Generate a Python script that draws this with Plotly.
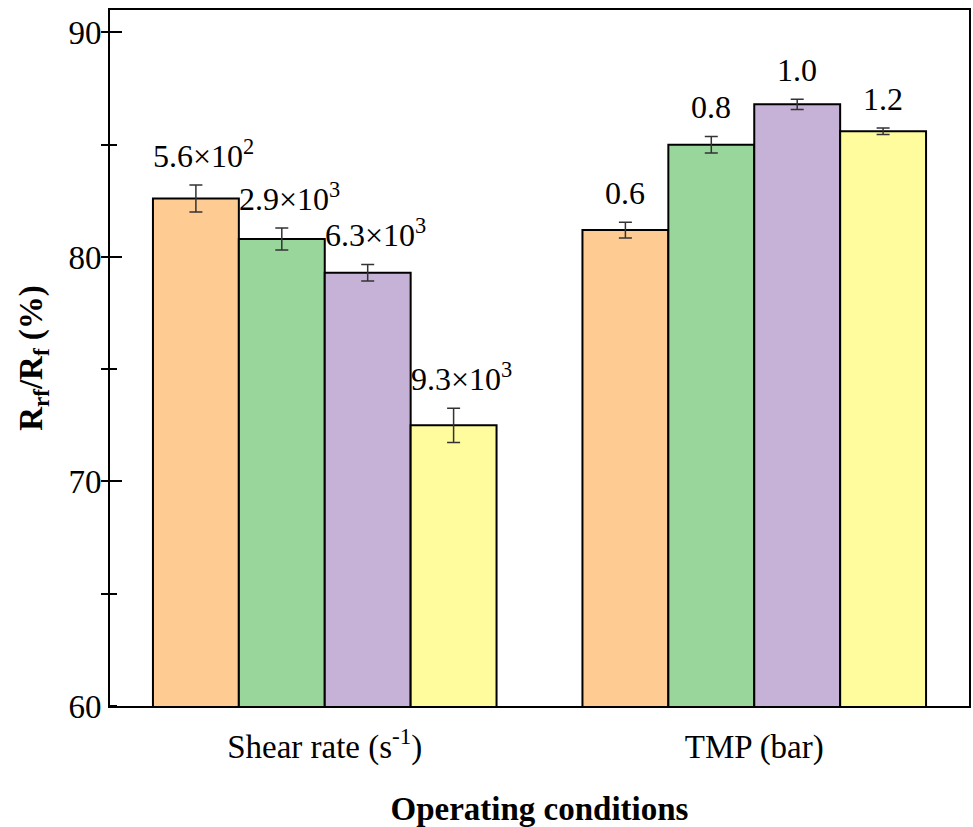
import plotly.graph_objects as go

# ---- data ----
categories = ["Shear rate (s<sup>-1</sup>)", "TMP (bar)"]
series_names = ["Level 1", "Level 2", "Level 3", "Level 4"]
values = [
    [82.6, 81.2],   # level 1
    [80.8, 85.0],   # level 2
    [79.3, 86.8],   # level 3
    [72.5, 85.6],   # level 4
]
errors = [
    [0.60, 0.35],
    [0.49, 0.37],
    [0.37, 0.23],
    [0.76, 0.14],
]
bar_labels = [
    ["5.6×10<sup>2</sup>", "0.6"],
    ["2.9×10<sup>3</sup>", "0.8"],
    ["6.3×10<sup>3</sup>", "1.0"],
    ["9.3×10<sup>3</sup>", "1.2"],
]
y_ticks = [60, 70, 80, 90]

colors = ["#FECB92", "#98D69C", "#C5B2D6", "#FEFC9C"]
FONT = "Liberation Serif, Times New Roman, serif"
bar_w = 0.2
n = len(series_names)
y_range = [60, 91]

fig = go.Figure()
annotations = []
for i in range(n):
    xs = [g + (i - (n - 1) / 2) * bar_w for g in range(len(categories))]
    fig.add_trace(go.Bar(
        x=xs, y=values[i], width=bar_w, name=series_names[i],
        marker=dict(color=colors[i], line=dict(color="black", width=2)),
        error_y=dict(type="data", array=errors[i], visible=True,
                     color="#333333", thickness=1.5, width=6.5),
        showlegend=False,
    ))
    for g in range(len(categories)):
        lbl = bar_labels[i][g]
        annotations.append(dict(
            x=xs[g], y=values[i][g] + errors[i][g], xref="x", yref="y",
            text=lbl, showarrow=False, yanchor="bottom",
            yshift=9, xshift=8 if "<sup>" in lbl else 0,
            font=dict(family=FONT, size=32, color="black"),
        ))

# helper trace so the overlaid axis (inner half of minor ticks) is drawn
fig.add_trace(go.Scatter(x=[None], y=[None], yaxis="y2", mode="markers",
                         showlegend=False, hoverinfo="skip"))

fig.update_layout(
    width=973, height=827,
    margin=dict(l=110, r=2, t=10, b=121),
    paper_bgcolor="white", plot_bgcolor="white",
    barmode="overlay",
    font=dict(family=FONT, size=32, color="black"),
    annotations=annotations,
    yaxis2=dict(
        overlaying="y", anchor="x", side="left", range=y_range,
        showline=False, showgrid=False, zeroline=False, showticklabels=False,
        ticks="", tickvals=y_ticks,
        minor=dict(dtick=5, tick0=0, ticks="inside", ticklen=7, tickwidth=2,
                   tickcolor="black", showgrid=False),
    ),
)
fig.update_xaxes(
    range=[-0.5, 1.5], tickvals=list(range(len(categories))), ticktext=categories,
    showline=True, linecolor="black", linewidth=2, mirror=True,
    ticks="", showgrid=False, zeroline=False,
    tickfont=dict(family=FONT, size=33), ticklabelstandoff=10,
    title=dict(text="<b>Operating conditions</b>", font=dict(family=FONT, size=33), standoff=32),
)
fig.update_layout(yaxis=dict(
    range=y_range, tickvals=y_ticks,
    showline=True, linecolor="black", linewidth=2, mirror=True,
    ticks="inside", ticklen=12, tickwidth=2, tickcolor="black",
    minor=dict(dtick=5, tick0=0, ticks="outside", ticklen=7, tickwidth=2, tickcolor="black"),
    showgrid=False, zeroline=False,
    tickfont=dict(family=FONT, size=33),
    title=dict(text="<b>R<sub>rf</sub>/R<sub>f</sub> (%)</b>", font=dict(family=FONT, size=33), standoff=16),
))

fig.write_html("out.html")
